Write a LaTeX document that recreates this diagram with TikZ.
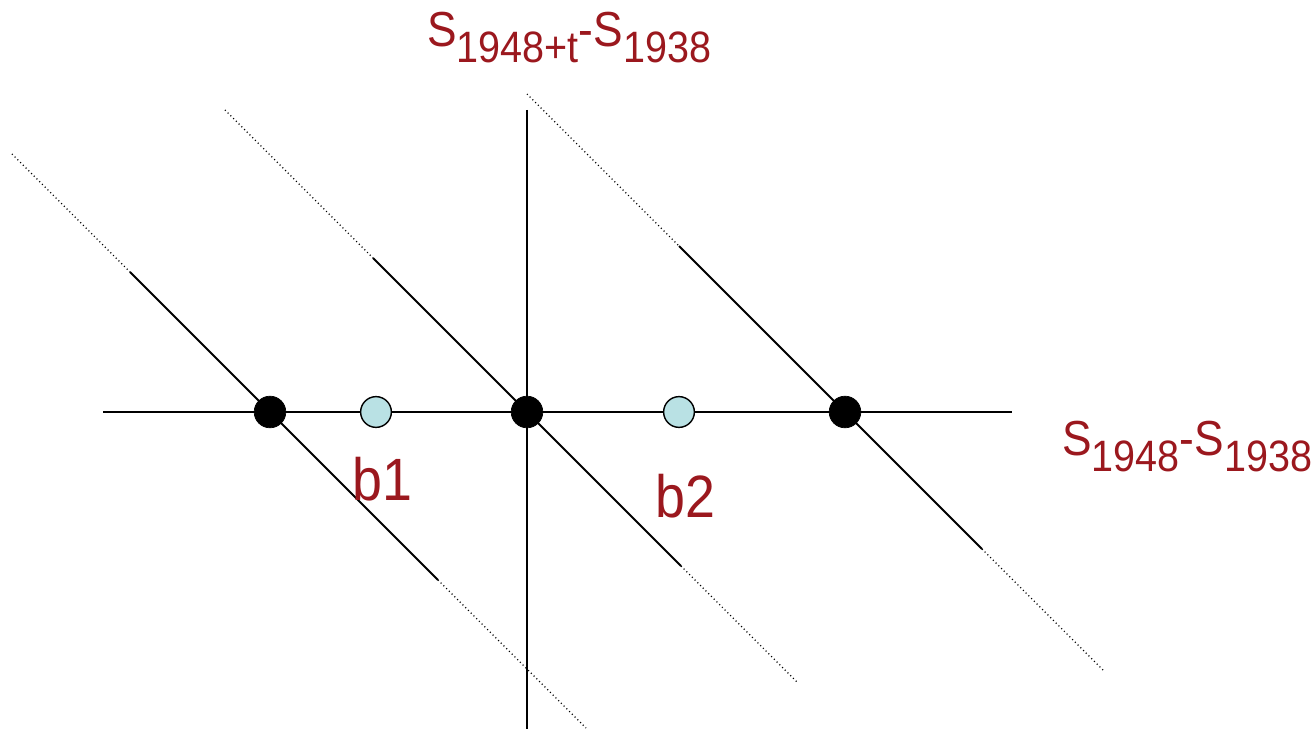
\documentclass[tikz,border=0pt]{standalone}
\usepackage{fontspec}
\usepackage{tikz}
\usetikzlibrary{calc,backgrounds}
\newfontfamily\lblfont{Liberation Sans}[FakeStretch=0.9]
\definecolor{lblred}{RGB}{155,24,30}
\definecolor{dotblue}{RGB}{185,225,228}
\newcommand{\subs}[1]{\raisebox{-9pt}{\fontsize{25}{25}\selectfont #1}}

\begin{document}
\begin{tikzpicture}[
  x=0.02cm, y=-0.02cm,
  axis/.style={line width=1.1pt, black},
  solidpart/.style={line width=1.1pt, black},
  dotpart/.style={line width=0.7pt, black, dash pattern=on 0.6pt off 1.6pt},
  knot/.style={circle, fill=black, draw=black, inner sep=0pt, minimum size=18pt},
  brk/.style={circle, fill=dotblue, draw=black, line width=0.8pt, inner sep=0pt, minimum size=17.5pt},
  lbl/.style={text=lblred, inner sep=0pt, font=\lblfont\fontsize{28}{28}\selectfont},
]
\useasboundingbox (0,0) rectangle (1315,729);

%% --- Dots on the axis ---
\node[knot] (k1) at (270,412) {};
\node[brk]  (b1) at (376,412) {};
\node[knot] (k2) at (527,412) {};
\node[brk]  (b2) at (679,412) {};
\node[knot] (k3) at (845,412) {};

%% --- Axes and diagonals ---
\coordinate (xl) at (103,412);
\coordinate (xr) at (1012,412);
\coordinate (yt) at (527,110);
\coordinate (yb) at (527,729);
\begin{scope}[on background layer]
  \draw[axis] (xl) -- (xr);
  \draw[axis] (yt) -- (yb);
  % dotted -- solid -- dotted through each knot
  \foreach \k/\a/\b/\c/\e in {k1/258/140/168/316, k2/302/154/154/271, k3/318/166/137/258}{
    \draw[dotpart]   ($(\k.center)+(-\a,-\a)$) -- ($(\k.center)+(-\b,-\b)$);
    \draw[solidpart] ($(\k.center)+(-\b,-\b)$) -- ($(\k.center)+(\c,\c)$);
    \draw[dotpart]   ($(\k.center)+(\c,\c)$) -- ($(\k.center)+(\e,\e)$);
  }
\end{scope}

%% --- Labels ---
\node[lbl, anchor=base west] (ylab) at (427,47) {S\subs{1948+t}-S\subs{1938}};
\node[lbl, anchor=base west] (xlab) at (1062,456) {S\subs{1948}-S\subs{1938}};
\node[lbl, anchor=base west, font=\lblfont\fontsize{34}{34}\selectfont] (lb1) at (352,500) {b1};
\node[lbl, anchor=base west, font=\lblfont\fontsize{34}{34}\selectfont] (lb2) at (655,517) {b2};

\end{tikzpicture}
\end{document}
